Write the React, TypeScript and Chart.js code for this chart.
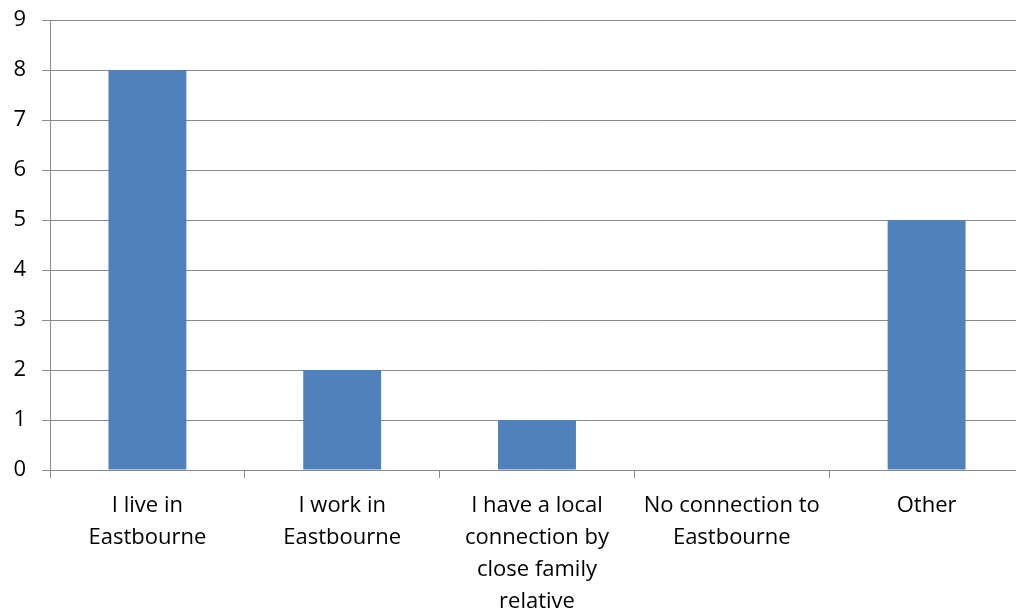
import React, { useEffect, useRef } from "react";
import { Chart, registerables } from "chart.js";

Chart.register(...registerables);

const categories: string[][] = [
  ["I live in", "Eastbourne"],
  ["I work in", "Eastbourne"],
  ["I have a local", "connection by", "close family", "relative"],
  ["No connection to", "Eastbourne"],
  ["Other"],
];
const counts: number[] = [8, 2, 1, 0, 5];
const yMin = 0;
const yMax = 9;
const yStep = 1;

const BAR_COLOR = "#4F81BD";
const GRID_COLOR = "#8a8a8a";
const FONT = { family: "'Open Sans', 'Liberation Sans', sans-serif", size: 22, lineHeight: "32px" };

export default function App() {
  const canvasRef = useRef<HTMLCanvasElement | null>(null);

  useEffect(() => {
    if (!canvasRef.current) return;
    const chart = new Chart(canvasRef.current, {
      type: "bar",
      data: {
        labels: categories,
        datasets: [
          {
            data: counts,
            backgroundColor: BAR_COLOR,
            borderWidth: 0,
            barPercentage: 0.4,
            categoryPercentage: 1,
          },
        ],
      },
      options: {
        animation: false,
        responsive: false,
        layout: { padding: { top: 20, right: 6, bottom: 0, left: 0 } },
        plugins: { legend: { display: false }, tooltip: { enabled: false } },
        scales: {
          x: {
            offset: true,
            grid: {
              offset: true,
              drawOnChartArea: false,
              drawTicks: true,
              tickLength: 8,
              color: GRID_COLOR,
            },
            border: { color: GRID_COLOR },
            ticks: {
              color: "#000",
              font: FONT,
              padding: 12,
              maxRotation: 0,
              autoSkip: false,
            },
            afterFit: (scale: any) => {
              scale.height = 143;
              scale.paddingLeft = 0;
              scale.paddingRight = 0;
            },
          },
          y: {
            min: yMin,
            max: yMax,
            grid: { color: GRID_COLOR, tickLength: 8 },
            border: { color: GRID_COLOR },
            ticks: {
              stepSize: yStep,
              color: "#000",
              font: { ...FONT, lineHeight: 1.2 },
              padding: 16,
            },
            afterFit: (scale: any) => {
              scale.width = 50;
              scale.paddingTop = 0;
              scale.paddingBottom = 0;
            },
          },
        },
      },
    });
    return () => chart.destroy();
  }, []);

  return (
    <div
      style={{
        position: "absolute",
        left: 0,
        top: 0,
        width: 1016,
        height: 613,
        overflow: "hidden",
        background: "#fff",
      }}
    >
      <canvas ref={canvasRef} width={1030} height={613} />
    </div>
  );
}
